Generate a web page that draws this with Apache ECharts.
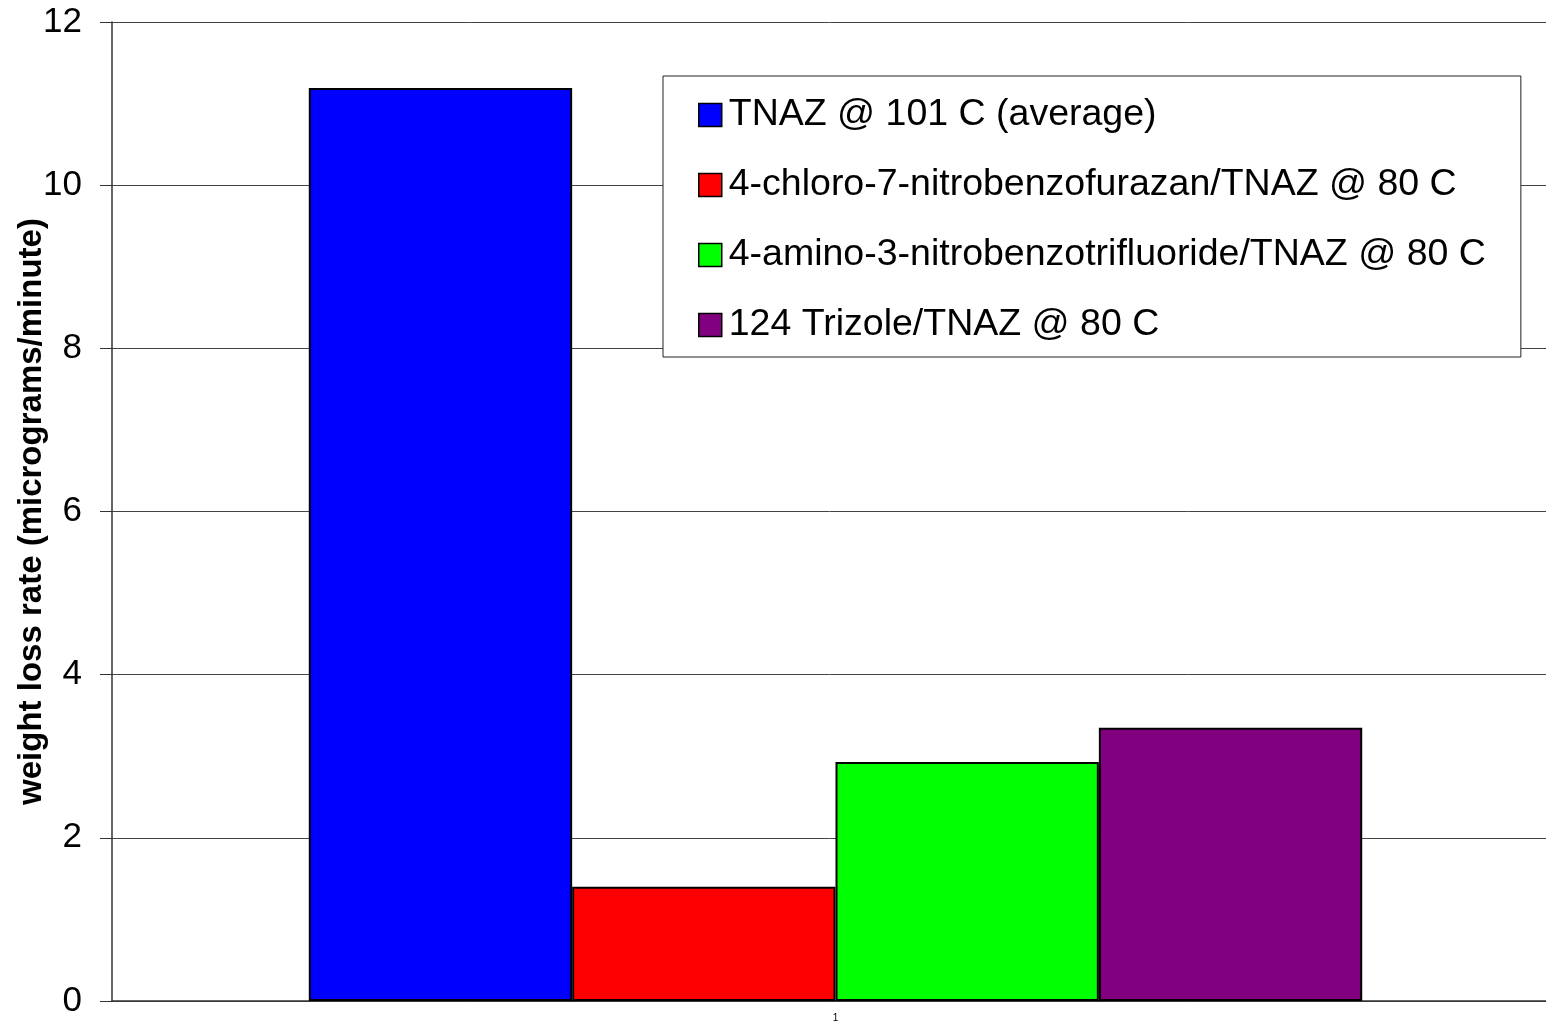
<!DOCTYPE html>
<html>
<head>
<meta charset="utf-8">
<title>Weight loss rate</title>
<script src="https://cdn.jsdelivr.net/npm/echarts@6/dist/echarts.min.js"></script>
<style>
  html, body { margin: 0; padding: 0; background: #fff; }
  #chart { width: 1546px; height: 1023px; }
</style>
</head>
<body>
<div id="chart"></div>
<script>
// Single sample group on the x axis
const categories = ['1'];

// Series names and measured weight loss rates (micrograms/minute)
const seriesNames = [
  'TNAZ @ 101 C (average)',
  '4-chloro-7-nitrobenzofurazan/TNAZ @ 80 C',
  '4-amino-3-nitrobenzotrifluoride/TNAZ @ 80 C',
  '124 Trizole/TNAZ @ 80 C'
];
const tnazValues = [11.19];
const chloroValues = [1.40];
const aminoValues = [2.93];
const trizoleValues = [3.35];

const seriesColors = ['#0000ff', '#ff0000', '#00ff00', '#800080'];

// Y axis ticks
const yMin = 0, yMax = 12, yStep = 2;

const valueLists = [tnazValues, chloroValues, aminoValues, trizoleValues];

const chart = echarts.init(document.getElementById('chart'), null, { renderer: 'canvas' });

const font = 'Liberation Sans, Arial, sans-serif';

chart.setOption({
  animation: false,
  backgroundColor: '#ffffff',
  textStyle: { fontFamily: font },
  // plot area runs slightly past the right edge of the canvas
  grid: { left: 112, top: 22, right: -13, bottom: 22, containLabel: false, outerBoundsMode: 'none' },
  legend: {
    orient: 'vertical',
    left: 663,
    top: 76,
    padding: [20, 35, 13, 35],
    itemGap: 32,
    itemWidth: 23,
    itemHeight: 23,
    icon: 'rect',
    borderColor: '#222',
    borderWidth: 1,
    backgroundColor: '#fff',
    itemStyle: { borderColor: '#000', borderWidth: 1.5 },
    textStyle: { fontFamily: font, fontSize: 37.5, lineHeight: 36, color: '#000', padding: [0, 0, 0, 2] },
    data: seriesNames
  },
  xAxis: {
    type: 'category',
    data: categories,
    axisLine: { lineStyle: { color: '#333', width: 1.5 } },
    axisTick: { show: false },
    axisLabel: { fontFamily: font, fontSize: 10, color: '#000', margin: 12 }
  },
  yAxis: {
    type: 'value',
    min: yMin,
    max: yMax,
    interval: yStep,
    name: 'weight loss rate (micrograms/minute)',
    nameLocation: 'middle',
    nameGap: 64,
    nameRotate: 90,
    nameMoveOverlap: false,
    nameTextStyle: { fontFamily: font, fontSize: 33, fontWeight: 'bold', color: '#000' },
    axisLine: { show: true, lineStyle: { color: '#333', width: 1.5 } },
    axisTick: { show: true, inside: false, length: 12, lineStyle: { color: '#333', width: 1 } },
    axisLabel: { fontFamily: font, fontSize: 35, color: '#000', margin: 30 },
    splitLine: { show: true, lineStyle: { color: '#444', width: 1 } }
  },
  series: seriesNames.map((name, i) => ({
    name: name,
    type: 'bar',
    data: valueLists[i],
    barGap: '0%',
    barCategoryGap: '27.2%',
    itemStyle: { color: seriesColors[i], borderColor: '#000', borderWidth: 2 }
  }))
});
</script>
</body>
</html>
